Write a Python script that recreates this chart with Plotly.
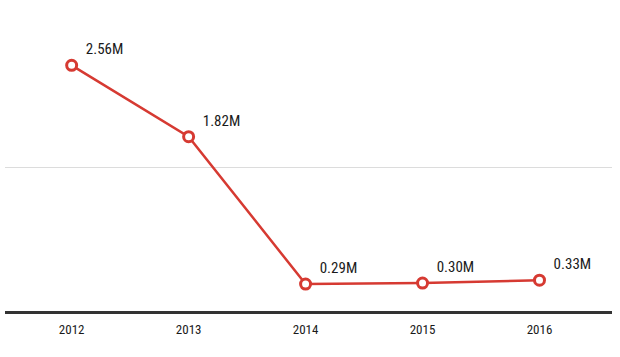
import plotly.graph_objects as go

years = ["2012", "2013", "2014", "2015", "2016"]
values = [2.56, 1.82, 0.29, 0.30, 0.33]
labels = ["  2.56M", "  1.82M", "  0.29M", "  0.30M", "  0.33M"]
grid_values = [0, 1.5]

x_idx = list(range(len(years)))
red = "#d63a32"
font_fam = "Roboto Condensed, Liberation Sans Narrow, Roboto, sans-serif"

fig = go.Figure()
fig.add_trace(go.Scatter(
    x=x_idx, y=values, mode="lines+markers+text",
    line=dict(color=red, width=2.5),
    marker=dict(symbol="circle", size=10, color="white", line=dict(color=red, width=3)),
    text=labels, textposition="top right",
    textfont=dict(family=font_fam, size=15, color="#1a1a1a"),
    cliponaxis=False, hoverinfo="skip",
))

fig.update_layout(
    width=620, height=357,
    margin=dict(l=5, r=8, t=21, b=45),
    paper_bgcolor="white", plot_bgcolor="white",
    showlegend=False,
    xaxis=dict(range=[-0.57, 4.62], tickvals=x_idx, ticktext=years,
               showgrid=False, zeroline=False, showline=False,
               tickfont=dict(family=font_fam, size=13, color="#1a1a1a"),
               ticks="", ticklabelstandoff=8),
    yaxis=dict(range=[0, 3.02], tickvals=grid_values, showticklabels=False,
               showgrid=True, gridcolor="#dcdcdc", gridwidth=1,
               zeroline=True, zerolinecolor="#333333", zerolinewidth=3,
               showline=False),
)
fig.write_html("out.html", config={"displayModeBar": False},
               post_script="document.body.style.margin='0';document.body.style.overflow='hidden';")
